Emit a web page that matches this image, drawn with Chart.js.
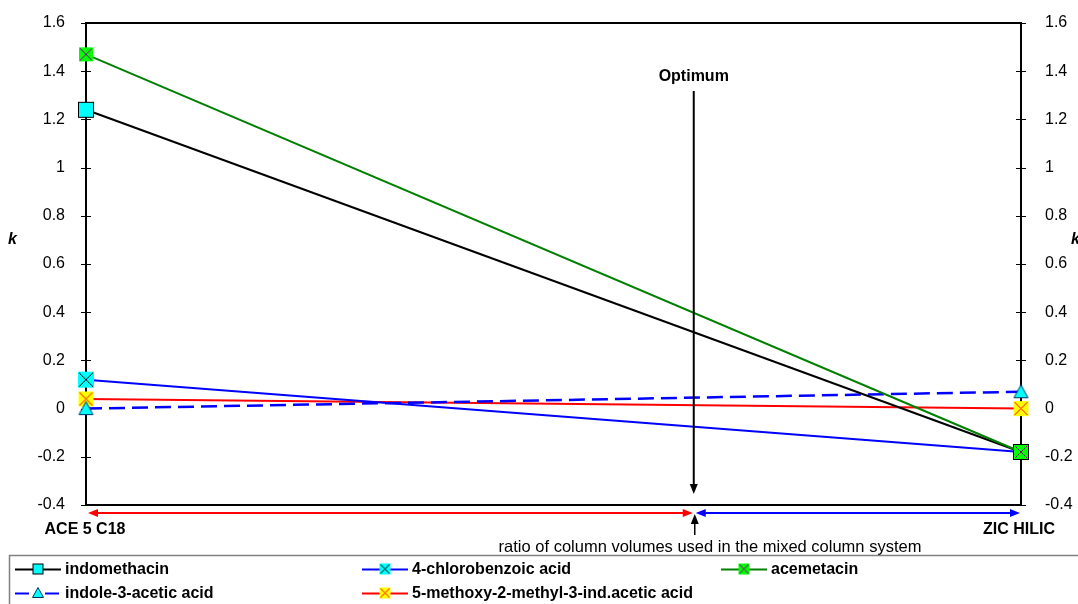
<!DOCTYPE html>
<html>
<head>
<meta charset="utf-8">
<script src="https://cdn.jsdelivr.net/npm/chart.js@4/dist/chart.umd.min.js"></script>
<style>
  html, body { margin: 0; padding: 0; background: #fff; }
  #wrap { width: 1078px; height: 604px; position: relative; }
</style>
</head>
<body>
<div id="wrap"><canvas id="chart"></canvas></div>
<script>
// column ends and series values (k)
const columns = ['ACE 5 C18', 'ZIC HILIC'];
const ratio = [0, 1];
const indomethacin = [1.24, -0.18];
const chlorobenzoic = [0.12, -0.18];
const acemetacin = [1.47, -0.18];
const indoleAcetic = [0.0, 0.07];
const methoxyAcid = [0.04, 0.0];
const kTicks = [-0.4, -0.2, 0, 0.2, 0.4, 0.6, 0.8, 1, 1.2, 1.4, 1.6];
const optimumRatio = 0.65;
const optimumLabel = 'Optimum';
const ratioLabel = 'ratio of column volumes used in the mixed column system';

const FONT = '"Liberation Sans", Arial, sans-serif';

// small canvases used as point markers
function marker(kind, size, fill, cross) {
  const c = document.createElement('canvas');
  c.width = size + 2; c.height = size + 2;
  const g = c.getContext('2d');
  g.translate(1, 1);
  if (kind === 'tri') {
    g.beginPath();
    g.moveTo(size / 2, 0.5);
    g.lineTo(size - 0.5, size - 1.5);
    g.lineTo(0.5, size - 1.5);
    g.closePath();
    g.fillStyle = fill; g.fill();
    g.strokeStyle = '#003366'; g.lineWidth = 1; g.stroke();
    return c;
  }
  g.fillStyle = fill;
  g.fillRect(0, 0, size, size);
  if (kind === 'box') {
    g.strokeStyle = '#000'; g.lineWidth = 1;
    g.strokeRect(0.5, 0.5, size - 1, size - 1);
  }
  if (cross) {
    g.strokeStyle = cross; g.lineWidth = 1;
    g.beginPath();
    g.moveTo(1, 1); g.lineTo(size - 1, size - 1);
    g.moveTo(size - 1, 1); g.lineTo(1, size - 1);
    g.stroke();
  }
  return c;
}

const styles = [
  { label: 'indomethacin', values: indomethacin, color: '#000000', dash: [],
    pt: marker('box', 16, '#00ffff'), lg: marker('box', 11, '#00ffff') },
  { label: '4-chlorobenzoic acid', values: chlorobenzoic, color: '#0000ff', dash: [],
    pt: marker('sq', 16, '#00ffff', '#000'), lg: marker('sq', 11, '#00ffff', '#000') },
  { label: 'acemetacin', values: acemetacin, color: '#008000', dash: [],
    pt: marker('sq', 14, '#00ff00', '#800080'), lg: marker('sq', 11, '#00ff00', '#800080') },
  { label: 'indole-3-acetic acid', values: indoleAcetic, color: '#0000ff', dash: [16, 7],
    pt: marker('tri', 15, '#00ffff'), lg: marker('tri', 12, '#00ffff') },
  { label: '5-methoxy-2-methyl-3-ind.acetic acid', values: methoxyAcid, color: '#ff0000', dash: [],
    pt: marker('sq', 15, '#ffff00', '#ff0000'), lg: marker('sq', 11, '#ffff00', '#ff0000') }
];

const legendSlots = [[15, 569], [362, 569], [721, 569], [15, 593], [362, 593]];

function arrowHead(ctx, x, y, dir, color) {
  // dir: 'l','r','u','d'
  ctx.fillStyle = color;
  ctx.beginPath();
  const L = 10, W = 4;
  if (dir === 'r') { ctx.moveTo(x, y); ctx.lineTo(x - L, y - W); ctx.lineTo(x - L, y + W); }
  if (dir === 'l') { ctx.moveTo(x, y); ctx.lineTo(x + L, y - W); ctx.lineTo(x + L, y + W); }
  if (dir === 'd') { ctx.moveTo(x, y); ctx.lineTo(x - W, y - L); ctx.lineTo(x + W, y - L); }
  if (dir === 'u') { ctx.moveTo(x, y); ctx.lineTo(x - W, y + L); ctx.lineTo(x + W, y + L); }
  ctx.closePath();
  ctx.fill();
}

const extras = {
  id: 'extras',
  beforeDatasetsDraw(chart) {
    const { ctx, chartArea: a, scales } = chart;
    ctx.save();
    // top and right frame
    ctx.strokeStyle = '#000'; ctx.lineWidth = 2;
    ctx.beginPath();
    ctx.moveTo(a.left, a.top); ctx.lineTo(a.right, a.top); ctx.lineTo(a.right, a.bottom);
    ctx.stroke();
    // tick marks crossing both vertical axes
    ctx.lineWidth = 1;
    kTicks.forEach((v, i) => {
      const y = Math.round(scales.y.getPixelForValue(v)) + 0.5;
      const inner = i === kTicks.length - 1 || i === 0 ? 0 : 5;
      ctx.beginPath();
      ctx.moveTo(a.left - 5, y); ctx.lineTo(a.left + inner, y);
      ctx.moveTo(a.right - inner, y); ctx.lineTo(a.right + 5, y);
      ctx.stroke();
    });
    ctx.restore();
  },
  afterDraw(chart) {
    const { ctx, chartArea: a, scales } = chart;
    const x = scales.x;
    const xOpt = x.getPixelForValue(optimumRatio);
    const x0 = x.getPixelForValue(ratio[0]);
    const x1 = x.getPixelForValue(ratio[1]);
    ctx.save();

    // axis titles
    ctx.fillStyle = '#000';
    ctx.font = 'italic bold 16px ' + FONT;
    ctx.textBaseline = 'middle';
    ctx.textAlign = 'left';
    ctx.fillText('k', 8, 240);
    ctx.fillText('k', 1071, 240);

    // column names under the ends
    ctx.font = 'bold 16px ' + FONT;
    ctx.textAlign = 'center';
    ctx.fillText(columns[0], x0 - 1, 530);
    ctx.fillText(columns[1], x1 - 2, 530);

    // optimum arrow
    ctx.fillText(optimumLabel, xOpt, 77);
    ctx.strokeStyle = '#000'; ctx.lineWidth = 2;
    ctx.beginPath();
    ctx.moveTo(xOpt, 91); ctx.lineTo(xOpt, a.bottom - 16);
    ctx.stroke();
    arrowHead(ctx, xOpt, a.bottom - 11, 'd', '#000');

    // column ratio arrows
    const yA = a.bottom + 8;
    ctx.lineWidth = 2;
    ctx.strokeStyle = '#ff0000';
    ctx.beginPath(); ctx.moveTo(x0 + 8, yA); ctx.lineTo(xOpt - 8, yA); ctx.stroke();
    arrowHead(ctx, x0 + 2, yA, 'l', '#ff0000');
    arrowHead(ctx, xOpt - 1, yA, 'r', '#ff0000');
    ctx.strokeStyle = '#0000ff';
    ctx.beginPath(); ctx.moveTo(xOpt + 9, yA); ctx.lineTo(x1 - 8, yA); ctx.stroke();
    arrowHead(ctx, xOpt + 2, yA, 'l', '#0000ff');
    arrowHead(ctx, x1 - 1, yA, 'r', '#0000ff');
    ctx.strokeStyle = '#000'; ctx.lineWidth = 1.5;
    ctx.beginPath(); ctx.moveTo(xOpt + 1, yA + 22); ctx.lineTo(xOpt + 1, yA + 6); ctx.stroke();
    arrowHead(ctx, xOpt + 1, yA + 1, 'u', '#000');

    ctx.font = '16.5px ' + FONT;
    ctx.fillStyle = '#000';
    ctx.fillText(ratioLabel, 710, 547);

    // legend box
    ctx.strokeStyle = '#808080'; ctx.lineWidth = 1.5;
    ctx.beginPath();
    ctx.moveTo(9.5, 604); ctx.lineTo(9.5, 555.5); ctx.lineTo(1078, 555.5);
    ctx.stroke();

    ctx.font = 'bold 16px ' + FONT;
    ctx.textAlign = 'left';
    styles.forEach((s, i) => {
      const [lx, ly] = legendSlots[i];
      ctx.strokeStyle = s.color;
      ctx.lineWidth = 2;
      ctx.setLineDash(s.dash.length ? [14, 7, 2, 7] : []);
      ctx.beginPath(); ctx.moveTo(lx, ly + 0.5); ctx.lineTo(lx + 46, ly + 0.5); ctx.stroke();
      ctx.setLineDash([]);
      ctx.drawImage(s.lg, lx + 23 - s.lg.width / 2, ly - s.lg.height / 2);
      ctx.fillStyle = '#000';
      ctx.fillText(s.label, lx + 50, ly + 1);
    });
    ctx.restore();
  }
};

const datasets = styles.map(s => ({
  label: s.label,
  data: ratio.map((r, i) => ({ x: r, y: s.values[i] })),
  borderColor: s.color,
  borderWidth: s.dash.length ? 2.5 : 2,
  borderDash: s.dash,
  pointStyle: s.pt,
  pointRadius: 8,
  tension: 0,
  fill: false,
  clip: false
}));
// acemetacin markers sit above the others
datasets[2].order = -1;

// vertical axes: fixed width, no extra room for half tick labels
const fitY = w => s => { s.width = w; s.paddingTop = 0; s.paddingBottom = 0; };

new Chart(document.getElementById('chart'), {
  type: 'line',
  data: { datasets },
  options: {
    responsive: true,
    maintainAspectRatio: false,
    animation: false,
    layout: { padding: { top: 23, left: 0, right: 0, bottom: 0 } },
    plugins: { legend: { display: false }, tooltip: { enabled: false } },
    scales: {
      x: {
        type: 'linear', min: 0, max: 1,
        grid: { display: false },
        border: { display: true, color: '#000', width: 2 },
        ticks: { display: false },
        afterFit(s) { s.height = 99; s.paddingLeft = 0; s.paddingRight = 0; }
      },
      y: {
        position: 'left', min: -0.4, max: 1.6,
        grid: { display: false },
        border: { display: true, color: '#000', width: 2 },
        afterBuildTicks(s) { s.ticks = kTicks.map(v => ({ value: v })); },
        ticks: {
          color: '#000', padding: 13,
          font: { family: FONT, size: 16 },
          callback: v => String(Number(v.toFixed(1)))
        },
        afterFit: fitY(86)
      },
      y2: {
        position: 'right', min: -0.4, max: 1.6,
        grid: { display: false },
        border: { display: false },
        afterBuildTicks(s) { s.ticks = kTicks.map(v => ({ value: v })); },
        ticks: {
          color: '#000', padding: 16,
          font: { family: FONT, size: 16 },
          callback: v => String(Number(v.toFixed(1)))
        },
        afterFit: fitY(57)
      }
    }
  },
  plugins: [extras]
});
</script>
</body>
</html>
